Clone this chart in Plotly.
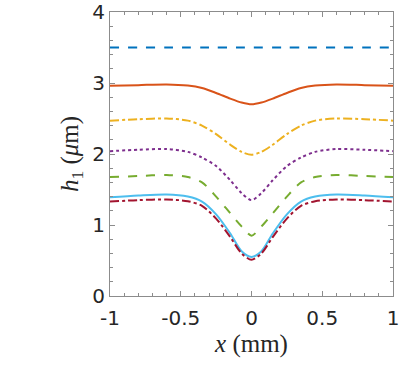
import plotly.graph_objects as go

# Film thickness profiles h1(x)
x_mm = [-1, -0.8, -0.6, -0.45, -0.35, -0.25, -0.15, -0.07, 0,
        0.07, 0.15, 0.25, 0.35, 0.45, 0.6, 0.8, 1]

h_blue = [3.5, 3.5, 3.5, 3.5, 3.5, 3.5, 3.5, 3.5, 3.5,
          3.5, 3.5, 3.5, 3.5, 3.5, 3.5, 3.5, 3.5]
h_orange = [2.96, 2.97, 2.98, 2.965, 2.93, 2.86, 2.78, 2.725, 2.70,
            2.725, 2.78, 2.86, 2.93, 2.965, 2.98, 2.97, 2.96]
h_yellow = [2.47, 2.49, 2.50, 2.47, 2.40, 2.28, 2.13, 2.03, 1.99,
            2.03, 2.13, 2.28, 2.40, 2.47, 2.50, 2.49, 2.47]
h_purple = [2.04, 2.06, 2.07, 2.03, 1.95, 1.83, 1.63, 1.45, 1.35,
            1.45, 1.63, 1.83, 1.95, 2.03, 2.07, 2.06, 2.04]
h_green = [1.675, 1.69, 1.705, 1.675, 1.60, 1.40, 1.165, 0.98, 0.85,
           0.98, 1.165, 1.40, 1.60, 1.675, 1.705, 1.69, 1.675]
h_cyan = [1.39, 1.415, 1.43, 1.40, 1.33, 1.15, 0.88, 0.63, 0.55,
          0.63, 0.88, 1.15, 1.33, 1.40, 1.43, 1.415, 1.39]
h_darkred = [1.33, 1.35, 1.36, 1.335, 1.27, 1.09, 0.83, 0.60, 0.51,
             0.60, 0.83, 1.09, 1.27, 1.335, 1.36, 1.35, 1.33]

series = [
    (h_blue, '#0072BD', 'dash'),
    (h_orange, '#D95319', 'solid'),
    (h_yellow, '#EDB120', 'dashdot'),
    (h_purple, '#7E2F8E', 'dot'),
    (h_green, '#77AC30', 'dash'),
    (h_cyan, '#4DBEEE', 'solid'),
    (h_darkred, '#A2142F', 'dashdot'),
]

fig = go.Figure()
for h, color, dash in series:
    fig.add_trace(go.Scatter(
        x=x_mm, y=h, mode='lines',
        line=dict(color=color, dash=dash, width=2, shape='spline', smoothing=0.8),
        showlegend=False
    ))

axis_common = dict(
    showline=True, linecolor='#8c8c8c', linewidth=1, mirror='allticks',
    ticks='inside', ticklen=5, tickcolor='#8c8c8c',
    showgrid=False, zeroline=False, automargin=False,
    tickfont=dict(family='DejaVu Sans, Arial', size=20, color='#262626'),
)
title_font = dict(family='Liberation Serif, Times New Roman', size=25, color='#262626')

fig.update_xaxes(
    range=[-1, 1], tickvals=[-1, -0.5, 0, 0.5, 1],
    ticktext=['-1', '-0.5', '0', '0.5', '1'],
    ticklabelstandoff=4,
    minor=dict(dtick=0.1, ticks='inside', ticklen=3, tickcolor='#8c8c8c'),
    title=dict(text='<i>x</i> (mm)', standoff=5, font=title_font),
    **axis_common
)
fig.update_yaxes(
    range=[0, 4], tickvals=[0, 1, 2, 3, 4],
    minor=dict(dtick=0.2, ticks='inside', ticklen=3, tickcolor='#8c8c8c'),
    title=dict(text='<i>h</i><sub>1</sub> (<i>μ</i>m)', standoff=6, font=title_font),
    **axis_common
)

fig.update_layout(
    width=407, height=370,
    margin=dict(l=110, r=14, t=12, b=74),
    paper_bgcolor='white', plot_bgcolor='white',
)

fig.write_html('out.html', config={'displayModeBar': False},
               post_script="document.body.style.margin='0';")
